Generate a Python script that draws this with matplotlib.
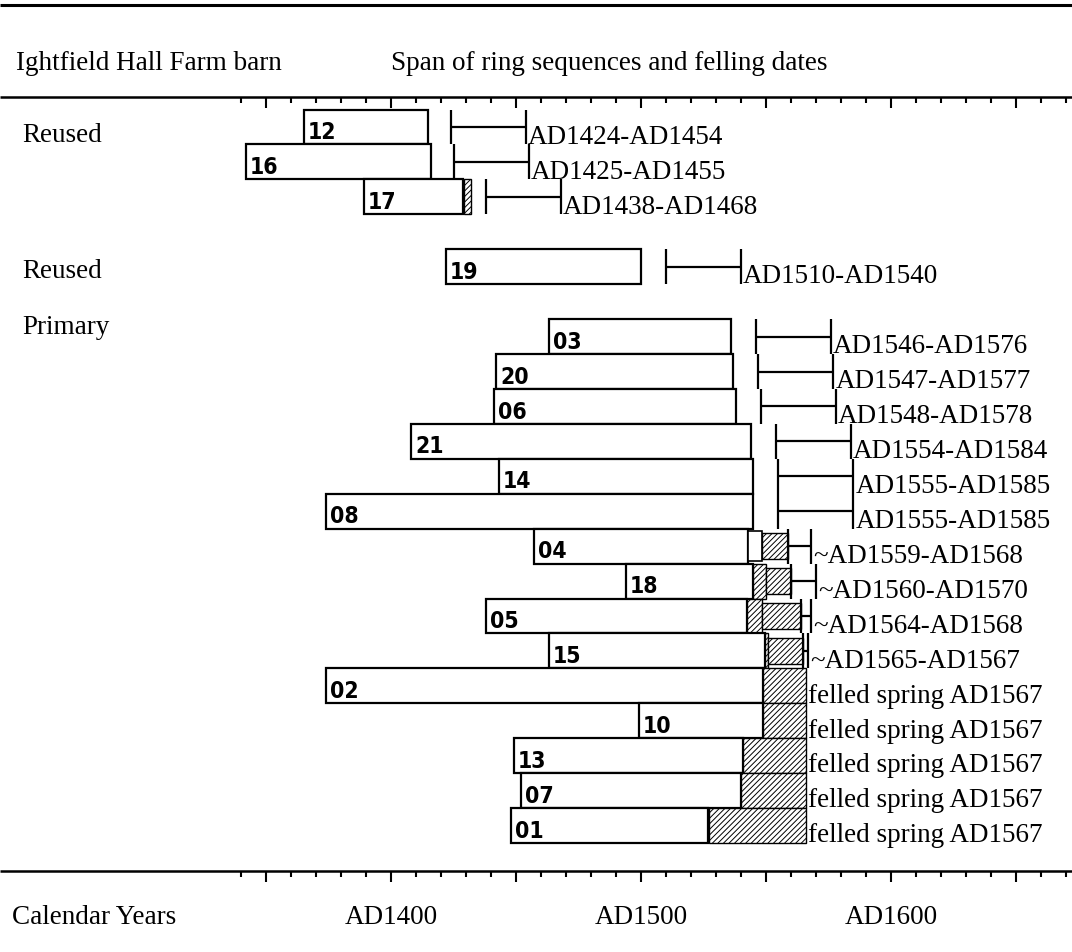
import matplotlib
matplotlib.use('Agg')
import matplotlib.pyplot as plt
import numpy as np
from matplotlib.patches import Rectangle

plt.rcParams['font.family'] = ['Liberation Serif', 'DejaVu Serif']
plt.rcParams['hatch.linewidth'] = 0.7

nan = np.nan

# timbers, top to bottom
ids = ['12', '16', '17', '19', '03', '20', '06', '21', '14', '08',
       '04', '18', '05', '15', '02', '10', '13', '07', '01']
rows = [0, 1, 2, 4, 6, 7, 8, 9, 10, 11, 12, 13, 14, 15, 16, 17, 18, 19, 20]
start = [1365, 1342, 1389, 1422, 1463, 1442, 1441, 1408, 1443, 1374,
         1457, 1494, 1438, 1463, 1374, 1499, 1449, 1452, 1448]
heart_end = [1415, 1416, 1429, 1500, 1536, 1537, 1538, 1544, 1545, 1545,
             1543, 1545, 1542.5, 1549.5, 1549, 1549, 1541, 1540, 1527]
sap_end = [1415, 1416, 1432, 1500, 1536, 1537, 1538, 1544, 1545, 1545,
           1543, 1550, 1548.5, 1551, 1566, 1566, 1566, 1566, 1566]
# rings counted but not measured
unmeas_heart_end = [nan] * 10 + [1548.5] + [nan] * 8
unmeas_sap_end = [nan] * 10 + [1559, 1560, 1564, 1565] + [nan] * 5
fell_lo = [1424, 1425, 1438, 1510, 1546, 1547, 1548, 1554, 1555, 1555,
           1559, 1560, 1564, 1565] + [nan] * 5
fell_hi = [1454, 1455, 1468, 1540, 1576, 1577, 1578, 1584, 1585, 1585,
           1568, 1570, 1568, 1567] + [nan] * 5
fell_text = ['AD1424-AD1454', 'AD1425-AD1455', 'AD1438-AD1468', 'AD1510-AD1540',
             'AD1546-AD1576', 'AD1547-AD1577', 'AD1548-AD1578', 'AD1554-AD1584',
             'AD1555-AD1585', 'AD1555-AD1585', '~AD1559-AD1568', '~AD1560-AD1570',
             '~AD1564-AD1568', '~AD1565-AD1567'] + ['felled spring AD1567'] * 5

groups = ['Reused', 'Reused', 'Primary']
group_y = [0.4, 4.3, 5.9]

year_labels = ['AD1400', 'AD1500', 'AD1600']
year_ticks = [1400, 1500, 1600]

# layout: 1072x953 px, x = 391 + 2.5*(year-1400), row r at 128 + 34.93*r px
W, H = 1072, 953
fig = plt.figure(figsize=(W / 100, H / 100), dpi=100)
ax = fig.add_axes([0, 0, 1, 1])
step = 34.93
def prow(px):
    return (px - 128) / step
ax.set_xlim(1400 - 391 / 2.5, 1400 + (W - 391) / 2.5)
ax.set_ylim(prow(H), prow(0))
ax.axis('off')

lw = 1.6
fs = 19.5
num_font = dict(family=['Liberation Sans Narrow', 'DejaVu Sans'], weight='heavy',
                stretch='condensed', size=16.5)

for i in range(len(ids)):
    r = rows[i]
    ax.add_patch(Rectangle((start[i], r - 0.5), heart_end[i] - start[i], 1,
                           fc='white', ec='black', lw=lw))
    if sap_end[i] > heart_end[i]:
        ax.add_patch(Rectangle((heart_end[i], r - 0.5), sap_end[i] - heart_end[i], 1,
                               fc='white', ec='black', lw=1.0, hatch='//////'))
    s0 = sap_end[i]
    if not np.isnan(unmeas_heart_end[i]):
        ax.add_patch(Rectangle((s0, r - 0.42), unmeas_heart_end[i] - s0, 0.84,
                               fc='white', ec='black', lw=1.2))
        s0 = unmeas_heart_end[i]
    if not np.isnan(unmeas_sap_end[i]):
        ax.add_patch(Rectangle((s0, r - 0.38), unmeas_sap_end[i] - s0, 0.76,
                               fc='white', ec='black', lw=1.0, hatch='//////'))
    ax.annotate(ids[i], (start[i], r + 0.5), xytext=(3, 1),
                textcoords='offset points', ha='left', va='bottom', **num_font)
    if not np.isnan(fell_lo[i]):
        ax.hlines(r, fell_lo[i], fell_hi[i], color='black', lw=lw)
        ax.vlines([fell_lo[i], fell_hi[i]], r - 0.5, r + 0.5, color='black', lw=lw)
        tx = fell_hi[i] + 0.8
    else:
        tx = sap_end[i] + 0.8
    ax.text(tx, r + 0.45, fell_text[i], fontsize=fs, va='baseline', ha='left')

x_left = 1400 - 391 / 2.5
for g, gy in zip(groups, group_y):
    ax.text(x_left + 22 / 2.5, gy, g, fontsize=fs, va='baseline')

# header
ax.hlines(prow(6), *ax.get_xlim(), color='black', lw=2.2)
ax.text(x_left + 16 / 2.5, prow(70), 'Ightfield Hall Farm barn', fontsize=fs, va='baseline')
ax.text(1400, prow(70), 'Span of ring sequences and felling dates', fontsize=fs, va='baseline')

# year scales (top and bottom)
tick_years = np.arange(1340, 1671, 10)
for base in (prow(98), prow(872)):
    ax.hlines(base, *ax.get_xlim(), color='black', lw=1.8)
    long = tick_years % 50 == 0
    ax.vlines(tick_years[~long], base, base + 6 / step, color='black', lw=1.5)
    ax.vlines(tick_years[long], base, base + 11 / step, color='black', lw=1.5)

ax.text(x_left + 12 / 2.5, prow(924), 'Calendar Years', fontsize=fs, va='baseline')
for yt, yl in zip(year_ticks, year_labels):
    ax.text(yt, prow(924), yl, fontsize=fs, va='baseline', ha='center')

fig.savefig('out.png', dpi=100)
